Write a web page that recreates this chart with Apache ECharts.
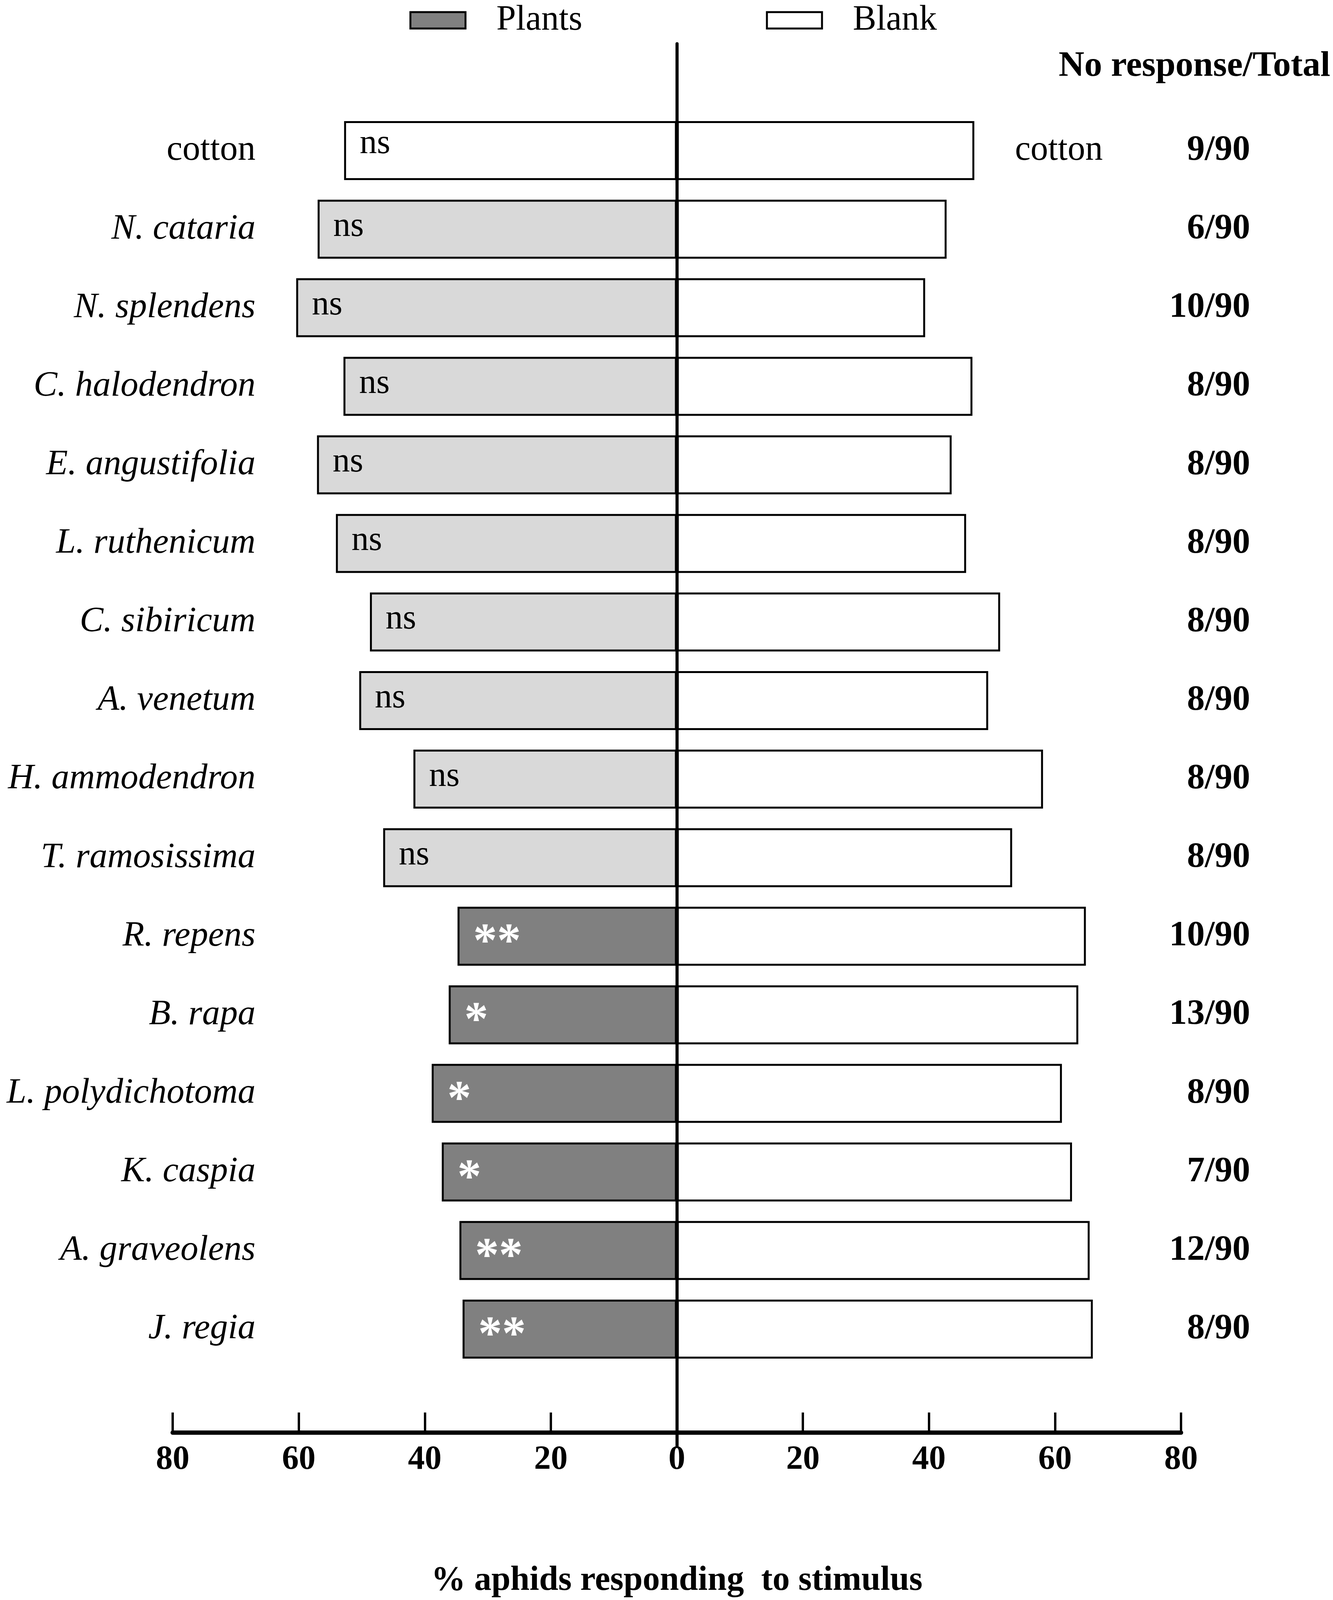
<!DOCTYPE html>
<html>
<head>
<meta charset="utf-8">
<script src="https://cdn.jsdelivr.net/npm/echarts@6/dist/echarts.min.js"></script>
<style>
  html, body { margin: 0; padding: 0; background: #fff; overflow: hidden; }
  #container { width: 100vw; height: 100vh; }
</style>
</head>
<body>
<div id="container"></div>
<script>
var species = ['cotton', 'N. cataria', 'N. splendens', 'C. halodendron', 'E. angustifolia',
    'L. ruthenicum', 'C. sibiricum', 'A. venetum', 'H. ammodendron', 'T. ramosissima',
    'R. repens', 'B. rapa', 'L. polydichotoma', 'K. caspia', 'A. graveolens', 'J. regia'];

// % aphids choosing the plant arm / the blank arm
var plantPct = [52.8, 57.0, 60.4, 52.9, 57.1, 54.1, 48.7, 50.4, 41.8, 46.6, 34.8, 36.2, 38.9, 37.3, 34.5, 34.0];
var blankPct = [47.2, 42.8, 39.4, 46.9, 43.6, 45.9, 51.3, 49.4, 58.1, 53.2, 64.9, 63.7, 61.1, 62.7, 65.5, 66.0];

var signif = ['ns', 'ns', 'ns', 'ns', 'ns', 'ns', 'ns', 'ns', 'ns', 'ns', '**', '*', '*', '*', '**', '**'];

var noResponse = ['9/90', '6/90', '10/90', '8/90', '8/90', '8/90', '8/90', '8/90', '8/90', '8/90',
    '10/90', '13/90', '8/90', '7/90', '12/90', '8/90'];

var ticks = [-80, 80, 20];

var control = 'cotton';
var serif = 'Liberation Serif';

// the layout was measured on a 4419 px tall figure; fit it to the real page height
var ky = 1;
function sy(v) { return Math.round(v * ky); }

function plantItem(i) {
    let fill = '#808080';
    if (species[i] === control) fill = '#ffffff';
    else if (signif[i] === 'ns') fill = '#d9d9d9';
    let isNs = signif[i] === 'ns';
    return {
        value: -plantPct[i],
        itemStyle: { color: fill },
        label: {
            show: true,
            position: 'insideLeft',
            distance: 40,
            formatter: signif[i],
            fontFamily: serif,
            fontSize: isNs ? 88 : 122,
            fontWeight: isNs ? 'normal' : 'bold',
            color: isNs ? '#000' : '#fff',
            offset: isNs ? [0, sy(species[i] === control ? -18 : -6)] : [0, sy(22)]
        }
    };
}

function blankItem(i) {
    let item = { value: blankPct[i] };
    if (species[i] === control) {
        item.label = {
            show: true,
            position: 'right',
            distance: 104,
            formatter: control,
            fontFamily: serif,
            fontSize: 90,
            color: '#000'
        };
    }
    return item;
}

function init() {
    let dom = document.getElementById('container');
    let myChart = echarts.init(dom);
    ky = myChart.getHeight() / 4419;

    let plantData = [], blankData = [];
    for (let i = 0; i < species.length; i++) {
        plantData.push(plantItem(i));
        blankData.push(blankItem(i));
    }

    let option = {
        backgroundColor: '#fff',
        animation: false,
        title: {
            text: 'No response/Total',
            right: 2,
            top: sy(130),
            textStyle: { fontFamily: serif, fontSize: 91, fontWeight: 'bold', color: '#000' }
        },
        legend: {
            data: ['Plants', 'Blank'],
            left: 1043,
            top: sy(2),
            icon: 'rect',
            itemWidth: 141,
            itemHeight: sy(45),
            itemGap: 470,
            textStyle: { fontFamily: serif, fontSize: 90, color: '#000', padding: [0, 0, 0, 74] },
            itemStyle: { borderColor: '#000', borderWidth: 5 }
        },
        grid: [
            { left: 442, right: 389, top: sy(307), bottom: sy(601) },
            { left: 442, right: 389, top: sy(121), bottom: sy(424) }
        ],
        xAxis: [
            {
                type: 'value',
                gridIndex: 0,
                min: ticks[0],
                max: ticks[1],
                interval: ticks[2],
                offset: sy(177),
                axisLine: { show: true, onZero: false, lineStyle: { color: '#000', width: 11 } },
                axisTick: { show: true, inside: true, length: sy(55), lineStyle: { color: '#000', width: 6 } },
                axisLabel: {
                    margin: sy(30),
                    fontFamily: serif,
                    fontSize: 86,
                    fontWeight: 'bold',
                    color: '#000',
                    formatter: function (v) { return Math.abs(v); }
                },
                splitLine: { show: false },
                name: '% aphids responding  to stimulus',
                nameLocation: 'middle',
                nameGap: sy(362),
                nameTextStyle: { fontFamily: serif, fontSize: 88, fontWeight: 'bold', color: '#000' }
            },
            {
                type: 'value',
                gridIndex: 1,
                min: ticks[0],
                max: ticks[1],
                show: false
            }
        ],
        yAxis: [
            {
                type: 'category',
                gridIndex: 0,
                data: species,
                inverse: true,
                axisLine: { show: false },
                axisTick: { show: false },
                axisLabel: {
                    margin: -212,
                    align: 'right',
                    formatter: function (v) {
                        return v === control ? '{n|' + v + '}' : '{i|' + v + '}';
                    },
                    rich: {
                        i: { fontFamily: serif, fontSize: 91, fontStyle: 'italic', color: '#000' },
                        n: { fontFamily: serif, fontSize: 91, color: '#000' }
                    }
                }
            },
            {
                type: 'category',
                gridIndex: 0,
                position: 'right',
                data: species,
                inverse: true,
                axisLine: { show: false },
                axisTick: { show: false },
                axisLabel: {
                    margin: 177,
                    align: 'right',
                    fontFamily: serif,
                    fontSize: 91,
                    fontWeight: 'bold',
                    color: '#000',
                    formatter: function (v, idx) { return noResponse[idx]; }
                }
            },
            {
                type: 'value',
                gridIndex: 1,
                min: 0,
                max: 1,
                z: 10,
                axisLine: { show: true, onZero: true, lineStyle: { color: '#000', width: 8 } },
                axisTick: { show: false },
                axisLabel: { show: false },
                splitLine: { show: false }
            }
        ],
        series: [
            {
                name: 'Plants',
                type: 'bar',
                xAxisIndex: 0,
                yAxisIndex: 0,
                barWidth: sy(163),
                barGap: '-100%',
                itemStyle: { color: '#808080', borderColor: '#000', borderWidth: 5 },
                data: plantData
            },
            {
                name: 'Blank',
                type: 'bar',
                xAxisIndex: 0,
                yAxisIndex: 0,
                barWidth: sy(163),
                barGap: '-100%',
                itemStyle: { color: '#ffffff', borderColor: '#000', borderWidth: 5 },
                data: blankData
            }
        ]
    };

    myChart.setOption(option, true);
}

init();
</script>
</body>
</html>
